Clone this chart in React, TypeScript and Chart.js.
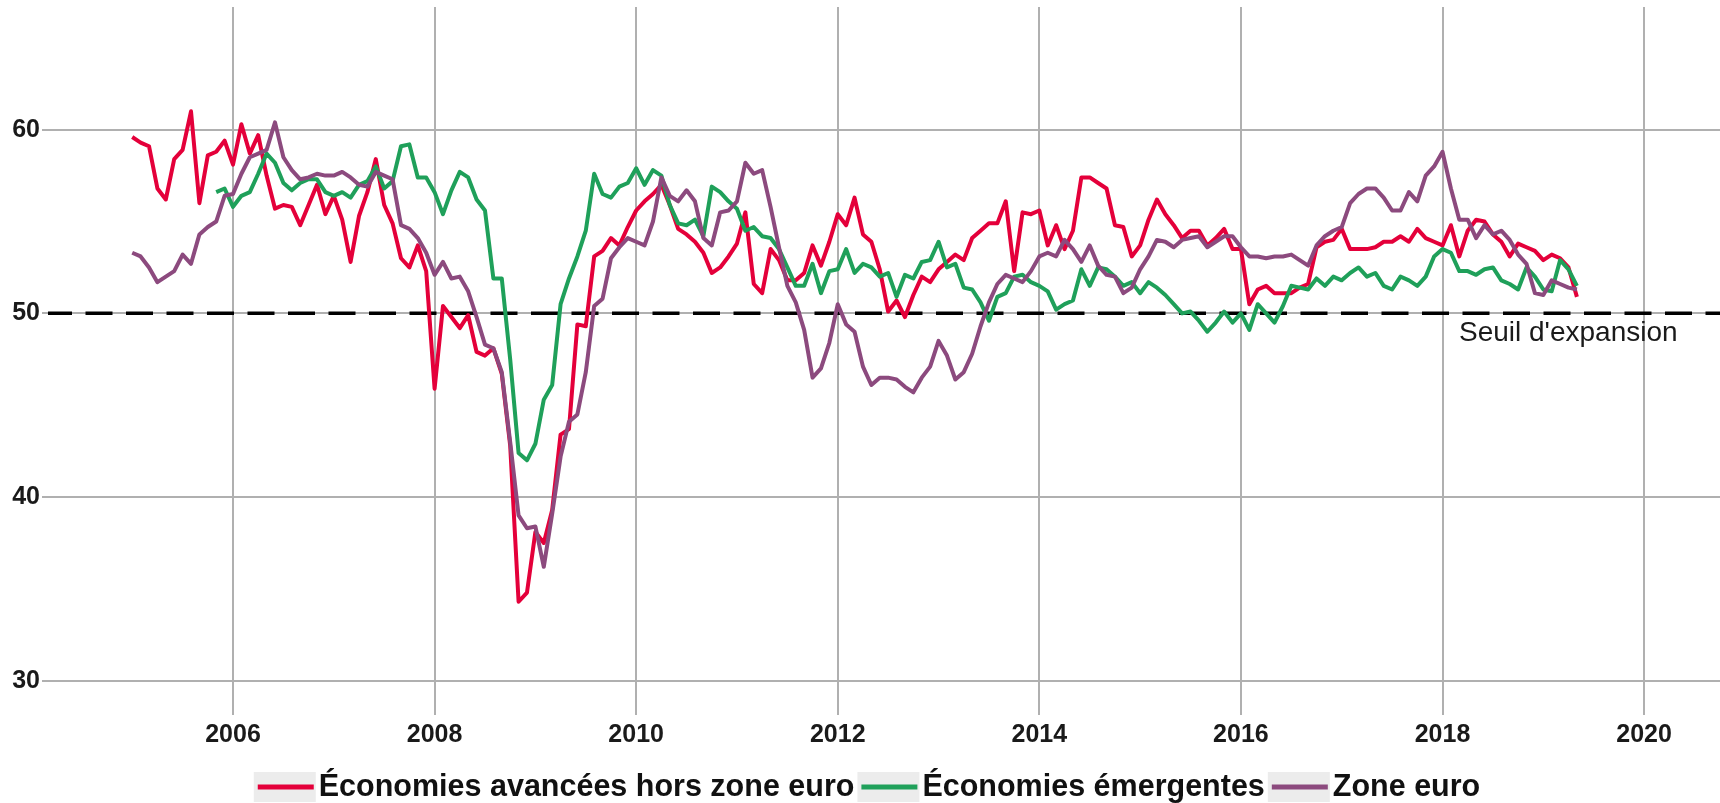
import React, { useEffect, useRef } from "react";
import { Chart, registerables } from "chart.js";

Chart.register(...registerables);

const FONT = "'Liberation Sans', Arial, Helvetica, sans-serif";

// Monthly values, January 2005 to May 2019
const START_YEAR = 2005;
const advancedLabel = "Économies avancées hors zone euro";
const advanced = [
  59.6, 59.3, 59.1, 56.8, 56.2, 58.4, 58.9, 61.0, 56.0, 58.6, 58.8, 59.4,
  58.1, 60.3, 58.7, 59.7, 57.5, 55.7, 55.9, 55.8, 54.8, 55.9, 57.0, 55.4,
  56.4, 55.1, 52.8, 55.3, 56.6, 58.4, 55.9, 54.9, 53.0, 52.5, 53.7, 52.3,
  45.9, 50.4, 49.8, 49.2, 49.9, 47.9, 47.7, 48.1, 46.7, 42.8, 34.3, 34.8,
  38.1, 37.5, 39.3, 43.4, 43.7, 49.4, 49.3, 53.1, 53.4, 54.1, 53.7, 54.7,
  55.6, 56.1, 56.5, 57.0, 55.9, 54.6, 54.3, 53.9, 53.3, 52.2, 52.5, 53.1,
  53.8, 55.5, 51.6, 51.1, 53.5, 52.9, 51.8, 51.8, 52.2, 53.7, 52.6, 53.9,
  55.4, 54.8, 56.3, 54.3, 53.9, 52.4, 50.1, 50.7, 49.8, 51.0, 52.0, 51.7,
  52.4, 52.8, 53.2, 52.9, 54.1, 54.5, 54.9, 54.9, 56.1, 52.3, 55.5, 55.4,
  55.6, 53.7, 54.8, 53.5, 54.5, 57.4, 57.4, 57.1, 56.8, 54.8, 54.7, 53.1,
  53.7, 55.1, 56.2, 55.4, 54.8, 54.1, 54.5, 54.5, 53.7, 54.1, 54.6, 53.5,
  53.5, 50.5, 51.3, 51.5, 51.1, 51.1, 51.1, 51.4, 51.6, 53.6, 53.9, 54.0,
  54.6, 53.5, 53.5, 53.5, 53.6, 53.9, 53.9, 54.2, 53.9, 54.6, 54.1, 53.9,
  53.7, 54.8, 53.1, 54.5, 55.1, 55.0, 54.3, 53.9, 53.1, 53.8, 53.6, 53.4,
  52.9, 53.2, 53.0, 52.5, 50.9,
];

// Monthly values, November 2005 to May 2019
const emergingLabel = "Économies émergentes";
const emergingStartMonth = 10;
const emerging = [
  56.6, 56.8,
  55.8, 56.4, 56.6, 57.6, 58.7, 58.2, 57.1, 56.7, 57.1, 57.3, 57.3, 56.6,
  56.4, 56.6, 56.3, 57.0, 57.2, 58.0, 56.8, 57.2, 59.1, 59.2, 57.4, 57.4,
  56.6, 55.4, 56.7, 57.7, 57.4, 56.2, 55.6, 51.9, 51.9, 47.5, 42.4, 42.0,
  42.9, 45.3, 46.1, 50.5, 51.9, 53.1, 54.5, 57.6, 56.5, 56.3, 56.9, 57.1,
  57.9, 57.0, 57.8, 57.5, 55.9, 54.9, 54.8, 55.1, 54.2, 56.9, 56.6, 56.1,
  55.7, 54.5, 54.7, 54.2, 54.1, 53.5, 52.5, 51.5, 51.5, 52.7, 51.1, 52.3,
  52.4, 53.5, 52.2, 52.7, 52.5, 52.0, 52.2, 50.9, 52.1, 51.9, 52.8, 52.9,
  53.9, 52.5, 52.7, 51.4, 51.3, 50.6, 49.6, 50.9, 51.1, 52.0, 52.1, 51.7,
  51.5, 51.2, 50.2, 50.5, 50.7, 52.4, 51.5, 52.5, 52.4, 52.0, 51.5, 51.7,
  51.1, 51.7, 51.4, 51.0, 50.5, 50.0, 50.1, 49.6, 49.0, 49.5, 50.1, 49.5,
  50.0, 49.1, 50.5, 50.0, 49.5, 50.4, 51.5, 51.4, 51.3, 51.9, 51.5, 52.0,
  51.8, 52.2, 52.5, 52.0, 52.2, 51.5, 51.3, 52.0, 51.8, 51.5, 52.0, 53.1,
  53.5, 53.3, 52.3, 52.3, 52.1, 52.4, 52.5, 51.8, 51.6, 51.3, 52.5, 52.0,
  51.3, 51.2, 52.9, 52.4, 51.5,
];

// Monthly values, January 2005 to May 2019
const euroLabel = "Zone euro";
const euro = [
  53.3, 53.1, 52.5, 51.7, 52.0, 52.3, 53.2, 52.7, 54.3, 54.7, 55.0, 56.4,
  56.5, 57.6, 58.5, 58.7, 58.9, 60.4, 58.5, 57.8, 57.3, 57.4, 57.6, 57.5,
  57.5, 57.7, 57.4, 57.0, 56.9, 57.7, 57.5, 57.3, 54.8, 54.6, 54.1, 53.3,
  52.1, 52.8, 51.9, 52.0, 51.2, 49.8, 48.3, 48.1, 46.8, 43.0, 39.0, 38.3,
  38.4, 36.2, 39.1, 42.2, 44.1, 44.5, 46.8, 50.4, 50.8, 53.0, 53.6, 54.1,
  53.9, 53.7, 55.0, 57.4, 56.4, 56.1, 56.7, 56.1, 54.1, 53.7, 55.5, 55.6,
  56.1, 58.2, 57.6, 57.8, 55.8, 53.6, 51.5, 50.6, 49.1, 46.5, 47.0, 48.4,
  50.5, 49.4, 49.0, 47.1, 46.1, 46.5, 46.5, 46.4, 46.0, 45.7, 46.5, 47.1,
  48.5, 47.7, 46.4, 46.8, 47.8, 49.3, 50.6, 51.6, 52.1, 51.9, 51.7, 52.3,
  53.1, 53.3, 53.1, 54.0, 53.5, 52.8, 53.7, 52.6, 52.1, 52.0, 51.1, 51.4,
  52.4, 53.1, 54.0, 53.9, 53.6, 54.0, 54.1, 54.2, 53.6, 53.9, 54.2, 54.2,
  53.6, 53.1, 53.1, 53.0, 53.1, 53.1, 53.2, 52.9, 52.6, 53.7, 54.2, 54.5,
  54.7, 56.0, 56.5, 56.8, 56.8, 56.3, 55.6, 55.6, 56.6, 56.1, 57.5, 58.0,
  58.8, 56.8, 55.1, 55.1, 54.1, 54.8, 54.3, 54.5, 54.0, 53.2, 52.7, 51.1,
  51.0, 51.8, 51.6, 51.4, 51.3,
];

const xTicks = [2006, 2008, 2010, 2012, 2014, 2016, 2018, 2020];
const yTicks = [30, 40, 50, 60];
const thresholdValue = 50;
const thresholdLabel = "Seuil d'expansion";

const RED = "#E4003A";
const GREEN = "#1FA05A";
const PURPLE = "#8C4A7E";
const GRID = "#b0b0b0";

const toPoints = (values: number[], startMonth: number) =>
  values.map((v, i) => ({ x: START_YEAR + (startMonth + i) / 12, y: v }));

const thresholdPlugin = {
  id: "threshold",
  beforeDatasetsDraw(chart: any) {
    const { ctx, chartArea, scales } = chart;
    const y = scales.y.getPixelForValue(thresholdValue);
    ctx.save();
    ctx.strokeStyle = "#000000";
    ctx.lineWidth = 3.5;
    ctx.setLineDash([27, 13.5]);
    ctx.lineDashOffset = 3;
    ctx.beginPath();
    ctx.moveTo(chartArea.left, y);
    ctx.lineTo(chartArea.right, y);
    ctx.stroke();
    ctx.restore();
  },
  afterDatasetsDraw(chart: any) {
    const { ctx, scales } = chart;
    const y = scales.y.getPixelForValue(thresholdValue);
    ctx.save();
    ctx.font = `28px ${FONT}`;
    ctx.fillStyle = "#1a1a1a";
    ctx.textAlign = "left";
    ctx.textBaseline = "middle";
    ctx.fillText(thresholdLabel, 1459, y + 20);
    ctx.restore();
  },
};

const legendPlugin = {
  id: "customLegend",
  afterDraw(chart: any) {
    const { ctx } = chart;
    const items = [
      { label: advancedLabel, color: RED },
      { label: emergingLabel, color: GREEN },
      { label: euroLabel, color: PURPLE },
    ];
    ctx.save();
    ctx.font = `bold 30.5px ${FONT}`;
    const keyW = 56;
    const keyGap = 5;
    const itemGap = 7;
    const widths = items.map((it) => ctx.measureText(it.label).width);
    const total =
      widths.reduce((a, w) => a + w + keyW + keyGap, 0) + itemGap * (items.length - 1);
    let x = 869 - total / 2;
    const yc = 787;
    items.forEach((it, i) => {
      ctx.fillStyle = "#ececec";
      ctx.fillRect(x - 4, yc - 15, keyW + 6, 30);
      ctx.strokeStyle = it.color;
      ctx.lineWidth = 5;
      ctx.setLineDash([]);
      ctx.beginPath();
      ctx.moveTo(x, yc);
      ctx.lineTo(x + keyW, yc);
      ctx.stroke();
      ctx.fillStyle = "#111111";
      ctx.textAlign = "left";
      ctx.textBaseline = "middle";
      ctx.fillText(it.label, x + keyW + keyGap, yc + 1);
      x += keyW + keyGap + widths[i] + itemGap;
    });
    ctx.restore();
  },
};

export default function App() {
  const canvasRef = useRef<HTMLCanvasElement | null>(null);

  useEffect(() => {
    if (!canvasRef.current) return;
    const tickFont = { family: FONT, size: 25, weight: "bold" as const };
    const lineStyle = {
      borderWidth: 4,
      pointRadius: 0,
      tension: 0,
      borderJoinStyle: "round" as const,
      borderCapStyle: "butt" as const,
      fill: false,
    };
    const chart = new Chart(canvasRef.current, {
      type: "line",
      data: {
        datasets: [
          { label: euroLabel, data: toPoints(euro, 0), borderColor: PURPLE, order: 0, ...lineStyle },
          { label: emergingLabel, data: toPoints(emerging, emergingStartMonth), borderColor: GREEN, order: 1, ...lineStyle },
          { label: advancedLabel, data: toPoints(advanced, 0), borderColor: RED, order: 2, ...lineStyle },
        ],
      },
      options: {
        animation: false,
        responsive: false,
        devicePixelRatio: 1,
        layout: { padding: { top: 7, left: 0, right: 0, bottom: 0 } },
        plugins: {
          legend: { display: false },
          tooltip: { enabled: false },
          title: { display: false },
        },
        scales: {
          x: {
            type: "linear",
            min: 2004.1645,
            max: 2020.753,
            afterBuildTicks: (s: any) => {
              s.ticks = xTicks.map((v) => ({ value: v }));
            },
            afterFit: (s: any) => {
              s.height = 94;
              s.paddingLeft = 0;
              s.paddingRight = 0;
            },
            border: { display: false },
            grid: { color: GRID, lineWidth: 2, tickLength: 6, drawTicks: true },
            ticks: {
              font: tickFont,
              color: "#1a1a1a",
              padding: 5,
              maxRotation: 0,
              autoSkip: false,
              callback: (v: any) => String(v),
            },
          },
          y: {
            type: "linear",
            min: 28.46,
            max: 66.68,
            afterBuildTicks: (s: any) => {
              s.ticks = yTicks.map((v) => ({ value: v }));
            },
            afterFit: (s: any) => {
              s.width = 48;
              s.paddingTop = 0;
              s.paddingBottom = 0;
            },
            border: { display: false },
            grid: { color: GRID, lineWidth: 2, tickLength: 6, drawTicks: true },
            ticks: {
              font: tickFont,
              color: "#1a1a1a",
              padding: 2,
              callback: (v: any) => String(v),
            },
          },
        },
      },
      plugins: [thresholdPlugin, legendPlugin],
    });
    return () => chart.destroy();
  }, []);

  return (
    <div style={{ position: "fixed", left: 0, top: 0, width: 1720, height: 803, background: "#ffffff" }}>
      <canvas ref={canvasRef} width={1720} height={803} style={{ width: 1720, height: 803, display: "block" }} />
    </div>
  );
}
